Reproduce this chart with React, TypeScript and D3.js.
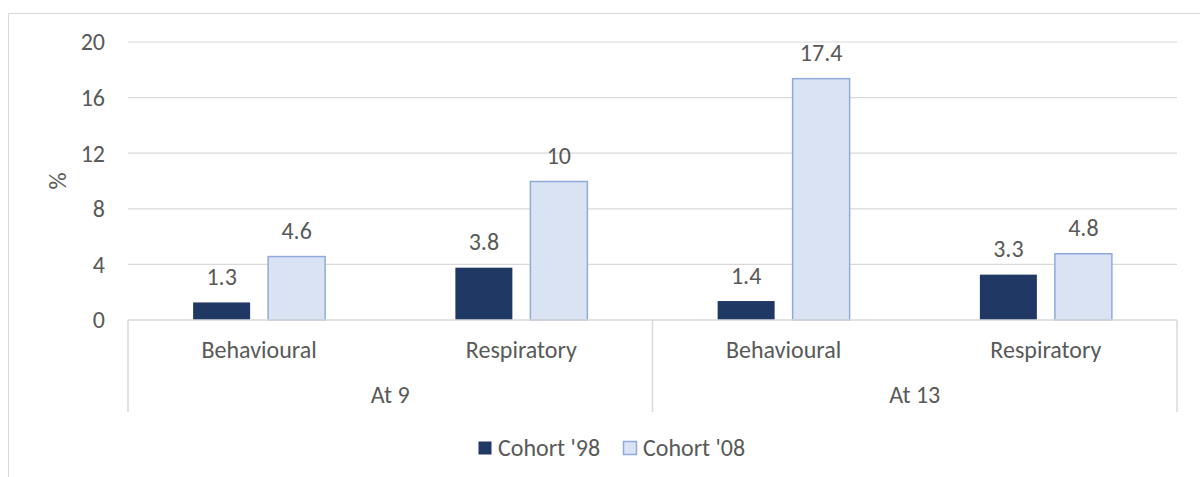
import React from "react";
import * as d3 from "d3";

const groups = ["At 9", "At 13"];
const categories = ["Behavioural", "Respiratory", "Behavioural", "Respiratory"];
const series = ["Cohort '98", "Cohort '08"];
const cohort98 = [1.3, 3.8, 1.4, 3.3];
const cohort08 = [4.6, 10, 17.4, 4.8];
const yTicks = [0, 4, 8, 12, 16, 20];

const fills = ["#203864", "#dae3f3"];
const strokes = ["#203864", "#8faadc"];
const textColor = "#595959";
const gridColor = "#d9d9d9";
const font = "Carlito, Calibri, Lato, sans-serif";
const fs = 24;

export default function App() {
  const W = 1200, H = 477;
  const left = 128, right = 1177, top = 42, bottom = 320;
  const y = d3.scaleLinear().domain([0, 20]).range([bottom, top]);
  const x0 = d3.scaleBand<number>().domain(d3.range(categories.length)).range([left, right]).paddingInner(0).paddingOuter(0);
  const bw = 58, gap = 17;
  const values = [cohort98, cohort08];
  const groupBand = d3.scaleBand<number>().domain(d3.range(groups.length)).range([left, right]);

  return (
    <svg width={W} height={H} style={{ position: "absolute", left: 0, top: 0, background: "#fff" }}>
      <rect x={8.5} y={13.5} width={1200} height={500} fill="none" stroke={gridColor} strokeWidth={1} />
      {yTicks.map((t) => (
        <g key={t}>
          {t > 0 && <line x1={left} x2={right} y1={y(t)} y2={y(t)} stroke={gridColor} strokeWidth={1.2} />}
          <text x={105} y={y(t)} dy="0.35em" textAnchor="end" fontFamily={font} fontSize={fs} fill={textColor}>{t}</text>
        </g>
      ))}
      <text transform={`translate(66,${(top + bottom) / 2}) rotate(-90)`} textAnchor="middle" fontFamily={font} fontSize={fs} fill={textColor}>%</text>
      {values.map((vals, s) =>
        vals.map((v, i) => {
          const c = x0(i)! + x0.bandwidth() / 2;
          const bx = s === 0 ? c - gap / 2 - bw : c + gap / 2;
          return (
            <g key={`${s}-${i}`}>
              <rect x={bx + 0.5} y={y(v) + 0.5} width={bw - 1} height={bottom - y(v) - 0.5} fill={fills[s]} stroke={strokes[s]} strokeWidth={s === 0 ? 0 : 1.5} />
              <text x={bx + bw / 2} y={y(v) - 17} textAnchor="middle" fontFamily={font} fontSize={fs} fill={textColor}>{v}</text>
            </g>
          );
        })
      )}
      <line x1={left} x2={right} y1={bottom} y2={bottom} stroke={gridColor} strokeWidth={1.5} />
      {[left, groupBand(1)!, right].map((xx, i) => (
        <line key={i} x1={xx} x2={xx} y1={bottom} y2={412} stroke={gridColor} strokeWidth={1.5} />
      ))}
      {categories.map((c, i) => (
        <text key={i} x={x0(i)! + x0.bandwidth() / 2} y={358} textAnchor="middle" fontFamily={font} fontSize={fs} fill={textColor}>{c}</text>
      ))}
      {groups.map((g, i) => (
        <text key={i} x={groupBand(i)! + groupBand.bandwidth() / 2} y={403} textAnchor="middle" fontFamily={font} fontSize={fs} fill={textColor}>{g}</text>
      ))}
      {series.map((s, i) => {
        const lx = i === 0 ? 478 : 623;
        return (
          <g key={s}>
            <rect x={lx + 0.5} y={441.5} width={13} height={13} fill={fills[i]} stroke={strokes[i]} strokeWidth={i === 0 ? 0 : 1.5} />
            <text x={lx + 20} y={456} fontFamily={font} fontSize={fs} fill={textColor}>{s}</text>
          </g>
        );
      })}
    </svg>
  );
}
